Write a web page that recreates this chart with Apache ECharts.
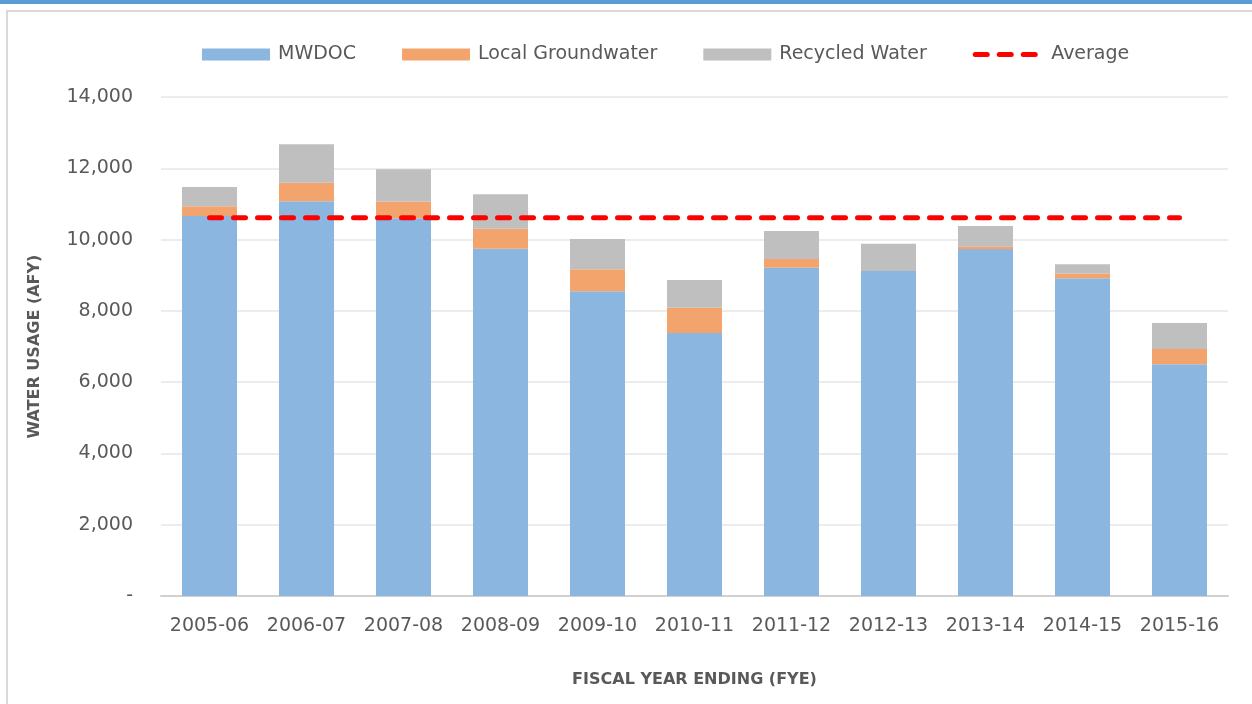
<!DOCTYPE html>
<html lang="en">
  <head>
    <meta charset="UTF-8" />
    <title>Water Usage by Fiscal Year</title>
    <script src="https://cdn.jsdelivr.net/npm/echarts@6/dist/echarts.min.js"></script>
    <style>
      html, body { margin: 0; padding: 0; background: #fff; }
      #chart { width: 1252px; height: 704px; }
    </style>
  </head>
  <body>
    <div id="chart"></div>
    <script>
      // values (AFY)
      const years = ["2005-06", "2006-07", "2007-08", "2008-09", "2009-10", "2010-11",
                     "2011-12", "2012-13", "2013-14", "2014-15", "2015-16"];
      const mwdoc = [10660, 11075, 10600, 9745, 8550, 7380, 9210, 9120, 9735, 8915, 6500];
      const groundwater = [275, 520, 465, 560, 615, 710, 245, 0, 75, 130, 430];
      const recycled = [540, 1080, 905, 965, 850, 775, 785, 765, 570, 265, 730];
      const average = [10615, 10615, 10615, 10615, 10615, 10615, 10615, 10615, 10615, 10615, 10615];

      const FONT = "DejaVu Sans";
      const TEXT = "#595959";
      const AVG_LINE = { color: "#FF0000", width: 5, type: [12, 12], cap: "round" };

      const chart = echarts.init(document.getElementById("chart"));

      chart.setOption({
        animation: false,
        textStyle: { fontFamily: FONT, color: TEXT },
        graphic: [
          { type: "rect", shape: { x: 0, y: 0, width: 1252, height: 4 }, style: { fill: "#5B9BD5" } },
          {
            type: "rect",
            shape: { x: 7, y: 11, width: 1260, height: 720 },
            style: { fill: "none", stroke: "#D9D9D9", lineWidth: 2 },
            silent: true,
          },
        ],
        legend: {
          left: 197,
          top: 40,
          itemWidth: 68,
          itemHeight: 12,
          itemGap: 46,
          textStyle: { fontFamily: FONT, fontSize: 19, color: TEXT, padding: [0, 0, 0, 3] },
          data: [
            { name: "MWDOC", icon: "rect" },
            { name: "Local Groundwater", icon: "rect" },
            { name: "Recycled Water", icon: "rect" },
            { name: "Average", itemStyle: { opacity: 0 }, lineStyle: AVG_LINE },
          ],
        },
        grid: { left: 161, right: 24, top: 97, bottom: 108, containLabel: false },
        xAxis: {
          type: "category",
          data: years,
          axisTick: { show: false },
          axisLine: { lineStyle: { color: "#D0D0D0", width: 2 } },
          axisLabel: { fontFamily: FONT, fontSize: 19, color: TEXT, margin: 21, interval: 0 },
          name: "FISCAL YEAR ENDING (FYE)",
          nameLocation: "middle",
          nameGap: 76,
          nameTextStyle: { fontFamily: FONT, fontSize: 16, fontWeight: "bold", color: TEXT },
        },
        yAxis: {
          type: "value",
          min: 0,
          max: 14000,
          interval: 2000,
          axisLine: { show: false },
          axisTick: { show: false },
          splitLine: { lineStyle: { color: "#E6E6E6", width: 1.5 } },
          axisLabel: {
            fontFamily: FONT,
            fontSize: 19,
            color: TEXT,
            margin: 28,
            formatter: (v) => (v === 0 ? "-" : v.toLocaleString("en-US")),
          },
          name: "WATER USAGE (AFY)",
          nameLocation: "middle",
          nameGap: 118,
          nameTextStyle: { fontFamily: FONT, fontSize: 16, fontWeight: "bold", color: TEXT },
        },
        series: [
          {
            name: "MWDOC",
            type: "bar",
            stack: "total",
            barWidth: 55,
            data: mwdoc,
            itemStyle: { color: "#8AB6E0" },
          },
          {
            name: "Local Groundwater",
            type: "bar",
            stack: "total",
            data: groundwater,
            itemStyle: { color: "#F3A46C" },
          },
          {
            name: "Recycled Water",
            type: "bar",
            stack: "total",
            data: recycled,
            itemStyle: { color: "#BFBFBF" },
          },
          {
            name: "Average",
            type: "line",
            data: average,
            symbol: "none",
            z: 5,
            itemStyle: { color: "#FF0000" },
            lineStyle: AVG_LINE,
          },
        ],
      });
    </script>
  </body>
</html>
